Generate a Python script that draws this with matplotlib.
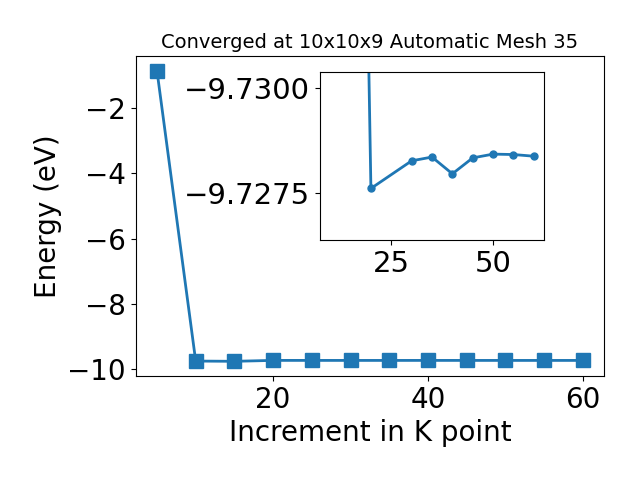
import matplotlib
matplotlib.use('Agg')
import matplotlib.pyplot as plt

# k-point increment vs total energy
kpoints = [5, 10, 15, 20, 25, 30, 35, 40, 45, 50, 55, 60]
energy = [-0.866, -9.748, -9.7556, -9.7276, -9.7280, -9.72826, -9.72835,
          -9.72795, -9.72833, -9.72842, -9.72841, -9.72837]

# inset (zoomed) data
inset_k = [10, 15, 20, 30, 35, 40, 45, 50, 55, 60]
inset_e = [-9.748, -9.7556, -9.7276, -9.72826, -9.72835,
           -9.72795, -9.72833, -9.72842, -9.72841, -9.72837]

title = "Converged at 10x10x9 Automatic Mesh 35"

fig = plt.figure(figsize=(6.4, 4.8), dpi=100)
ax = fig.add_axes([0.212, 0.217, 0.732, 0.666])
ax.plot(kpoints, energy, marker='s', markersize=10, linewidth=2)
ax.set_title(title, fontsize=14)
ax.set_xlabel("Increment in K point", fontsize=20)
ax.set_ylabel("Energy (eV)", fontsize=20)
ax.tick_params(labelsize=20)

axin = fig.add_axes([0.5, 0.5, 0.35, 0.35])
axin.plot(inset_k, inset_e, marker='o', markersize=5, linewidth=2)
axin.set_xlim(7.5, 62.5)
axin.set_ylim(-9.72637, -9.73038)
axin.set_yticks([-9.7300, -9.7275])
axin.set_xticks([25, 50])
axin.tick_params(labelsize=21)

fig.savefig("out.png")
